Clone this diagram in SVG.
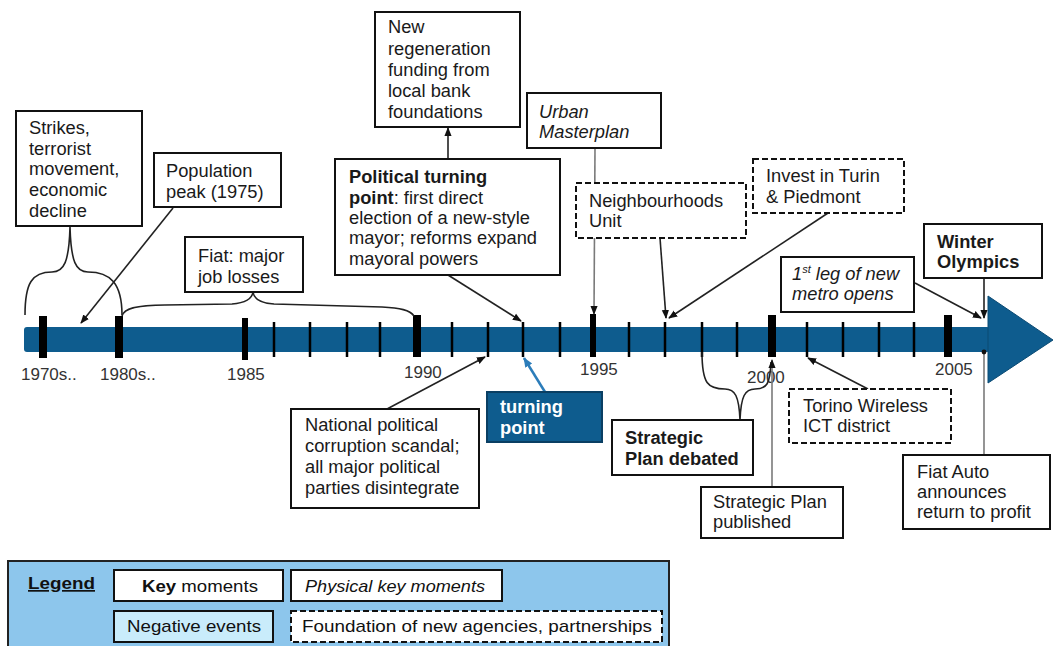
<svg xmlns="http://www.w3.org/2000/svg" width="1053" height="646" viewBox="0 0 1053 646">
<defs>
<style>
.box{fill:#fff;stroke:#111;stroke-width:2}
.dash{fill:#fff;stroke:#111;stroke-width:2;stroke-dasharray:6 3}
.t{font-family:"Liberation Sans",Arial,sans-serif;font-size:18.3px;fill:#1a1a1a}
.b{font-weight:bold}
.i{font-style:italic}
.yr{font-family:"Liberation Sans",Arial,sans-serif;font-size:17px;fill:#333}
.con{stroke:#222;stroke-width:1.6;fill:none}
.gray{stroke:#7a7a7a}
.brace{stroke:#222;stroke-width:1.6;fill:none}
.maj{fill:#000}
.min{stroke:#000;stroke-width:2.5}
.lg{font-family:"Liberation Sans",Arial,sans-serif;font-size:17px;fill:#111}
</style>
<marker id="ah" viewBox="0 0 10 10" refX="9" refY="5" markerWidth="9" markerHeight="9" markerUnits="userSpaceOnUse" orient="auto"><path d="M0,1 L10,5 L0,9 z" fill="#111"/></marker>
<marker id="ahb" viewBox="0 0 10 10" refX="9" refY="5" markerWidth="10" markerHeight="10" markerUnits="userSpaceOnUse" orient="auto"><path d="M0,1 L10,5 L0,9 z" fill="#2C7DBA"/></marker>
<marker id="dot" viewBox="0 0 10 10" refX="5" refY="5" markerWidth="6" markerHeight="6" markerUnits="userSpaceOnUse"><circle cx="5" cy="5" r="4" fill="#111"/></marker>
</defs>
<rect width="1053" height="646" fill="#fff"/>

<g id="timeline">
<rect x="24" y="327" width="966" height="25" rx="3" fill="#0E5C8E"/>
<polygon points="988,296 1053,340 988,383" fill="#0E5C8E" stroke="#0B4A73" stroke-width="1"/>
<rect class="maj" x="39" y="316" width="8" height="42"/>
<rect class="maj" x="115" y="316" width="8" height="42"/>
<rect class="maj" x="242" y="318" width="6" height="42"/>
<rect class="maj" x="413" y="315" width="8" height="42"/>
<rect class="maj" x="590" y="314" width="6" height="43"/>
<rect class="maj" x="768" y="315" width="8" height="42"/>
<rect class="maj" x="944" y="315" width="8" height="42"/>
<g>
<line class="min" x1="274" y1="322" x2="274" y2="357"/>
<line class="min" x1="310" y1="322" x2="310" y2="357"/>
<line class="min" x1="347" y1="322" x2="347" y2="357"/>
<line class="min" x1="380" y1="322" x2="380" y2="357"/>
<line class="min" x1="452" y1="322" x2="452" y2="357"/>
<line class="min" x1="488" y1="322" x2="488" y2="357"/>
<line class="min" x1="523" y1="322" x2="523" y2="357"/>
<line class="min" x1="560" y1="322" x2="560" y2="357"/>
<line class="min" x1="629" y1="322" x2="629" y2="357"/>
<line class="min" x1="665" y1="322" x2="665" y2="357"/>
<line class="min" x1="702" y1="322" x2="702" y2="357"/>
<line class="min" x1="737" y1="322" x2="737" y2="357"/>
<line class="min" x1="807" y1="322" x2="807" y2="357"/>
<line class="min" x1="843" y1="322" x2="843" y2="357"/>
<line class="min" x1="879" y1="322" x2="879" y2="357"/>
<line class="min" x1="914" y1="322" x2="914" y2="357"/>
</g>
<text class="yr" x="21" y="380">1970s..</text>
<text class="yr" x="100" y="380">1980s..</text>
<text class="yr" x="227" y="380">1985</text>
<text class="yr" x="404" y="378">1990</text>
<text class="yr" x="580" y="375">1995</text>
<text class="yr" x="747" y="383">2000</text>
<text class="yr" x="935" y="375">2005</text>
</g>

<g id="connectors">
<path class="brace" d="M25 315 C25 283 32 272 52 272 C64 272 69 262 70 227 C71 262 76 272 88 272 C110 272 122 283 122 315"/>
<path class="brace" d="M122 316 C124 309 135 305 165 305 L232 304 C246 303 252 299 253 292 C254 299 260 303 274 304 L382 307 C400 308 410 310 414 316"/>
<path class="brace" d="M702 352 C702 384 708 389 725 389 C735 389 739 396 740 420 C741 396 745 389 755 389 C767 389 770 384 771 362"/>
<line class="con" x1="173" y1="208" x2="81" y2="323" marker-end="url(#ah)"/>
<line class="con" x1="448" y1="159" x2="448" y2="128" marker-end="url(#ah)"/>
<line class="con" x1="448" y1="275" x2="521" y2="321" marker-end="url(#ah)"/>
<line class="con" x1="387" y1="409" x2="485" y2="357" marker-end="url(#ah)"/>
<line x1="545" y1="392" x2="524" y2="358" stroke="#2C7DBA" stroke-width="2.5" marker-end="url(#ahb)"/>
<line class="con gray" x1="595" y1="148" x2="594" y2="314" marker-end="url(#ah)"/>
<line class="con" x1="660" y1="238" x2="666" y2="318" marker-end="url(#ah)"/>
<line class="con" x1="828" y1="213" x2="669" y2="318" marker-end="url(#ah)"/>
<line class="con" x1="915" y1="283" x2="981" y2="318" marker-end="url(#ah)"/>
<line class="con" x1="984" y1="278" x2="984" y2="318" marker-end="url(#ah)"/>
<line class="con gray" x1="984" y1="455" x2="984" y2="352" marker-end="url(#dot)"/>
<line class="con gray" x1="772" y1="487" x2="772" y2="360" marker-end="url(#ah)"/>
<line class="con" x1="868" y1="389" x2="808" y2="358" marker-end="url(#ah)"/>
</g>

<g id="strikes">
<rect class="box" x="16" y="111" width="126" height="115"/>
<text class="t" x="29" y="134">Strikes,</text>
<text class="t" x="29" y="155">terrorist</text>
<text class="t" x="29" y="175">movement,</text>
<text class="t" x="29" y="196">economic</text>
<text class="t" x="29" y="217">decline</text>
</g>

<g id="population">
<rect class="box" x="154" y="153" width="127" height="54"/>
<text class="t" x="166" y="177">Population</text>
<text class="t" x="166" y="198">peak (1975)</text>
</g>

<g id="fiat-losses">
<rect class="box" x="185" y="237" width="118" height="55"/>
<text class="t" x="198" y="262">Fiat: major</text>
<text class="t" x="198" y="283">job losses</text>
</g>

<g id="regeneration">
<rect class="box" x="375" y="12" width="145" height="115"/>
<text class="t" x="388" y="33">New</text>
<text class="t" x="388" y="55">regeneration</text>
<text class="t" x="388" y="76">funding from</text>
<text class="t" x="388" y="97">local bank</text>
<text class="t" x="388" y="118">foundations</text>
</g>

<g id="political">
<rect class="box" x="335" y="159" width="225" height="116"/>
<text class="t b" x="349" y="183">Political turning</text>
<text class="t" x="349" y="204"><tspan class="b">point</tspan>: first direct</text>
<text class="t" x="349" y="224">election of a new-style</text>
<text class="t" x="349" y="244">mayor; reforms expand</text>
<text class="t" x="349" y="265">mayoral powers</text>
</g>

<g id="masterplan">
<rect class="box" x="527" y="93" width="134" height="55"/>
<text class="t i" x="539" y="118">Urban</text>
<text class="t i" x="539" y="138">Masterplan</text>
</g>

<g id="neighbourhoods">
<rect class="dash" x="576" y="183" width="170" height="55"/>
<text class="t" x="589" y="207">Neighbourhoods</text>
<text class="t" x="589" y="227">Unit</text>
</g>

<g id="invest">
<rect class="dash" x="753" y="159" width="151" height="54"/>
<text class="t" x="766" y="182">Invest in Turin</text>
<text class="t" x="766" y="203">&amp; Piedmont</text>
</g>

<g id="metro">
<rect class="box" x="781" y="257" width="133" height="55"/>
<text class="t i" x="792" y="280">1<tspan font-size="11" dy="-7">st</tspan><tspan dy="7"> leg of new</tspan></text>
<text class="t i" x="792" y="300">metro opens</text>
</g>

<g id="olympics">
<rect class="box" x="924" y="224" width="118" height="54"/>
<text class="t b" x="937" y="248">Winter</text>
<text class="t b" x="937" y="268">Olympics</text>
</g>

<g id="corruption">
<rect class="box" x="291" y="409" width="188" height="99"/>
<text class="t" x="305" y="431">National political</text>
<text class="t" x="305" y="452">corruption scandal;</text>
<text class="t" x="305" y="473">all major political</text>
<text class="t" x="305" y="494">parties disintegrate</text>
</g>

<g id="turning">
<rect x="487" y="392" width="115" height="50" fill="#0E5C8E" stroke="#0A3F63" stroke-width="2"/>
<text class="t b" x="500" y="413" style="fill:#fff">turning</text>
<text class="t b" x="500" y="434" style="fill:#fff">point</text>
</g>

<g id="debated">
<rect class="box" x="612" y="420" width="141" height="55"/>
<text class="t b" x="625" y="444">Strategic</text>
<text class="t b" x="625" y="465">Plan debated</text>
</g>

<g id="published">
<rect class="box" x="701" y="487" width="142" height="51"/>
<text class="t" x="713" y="508">Strategic Plan</text>
<text class="t" x="713" y="528">published</text>
</g>

<g id="wireless">
<rect class="dash" x="789" y="389" width="162" height="54"/>
<text class="t" x="803" y="412">Torino Wireless</text>
<text class="t" x="803" y="432">ICT district</text>
</g>

<g id="fiat-profit">
<rect class="box" x="903" y="455" width="147" height="74"/>
<text class="t" x="917" y="478">Fiat Auto</text>
<text class="t" x="917" y="498">announces</text>
<text class="t" x="917" y="518">return to profit</text>
</g>

<g id="legend">
<rect x="8" y="561" width="661" height="95" fill="#8DC6EC" stroke="#222" stroke-width="2"/>
<text class="lg b" x="28" y="589" text-decoration="underline" textLength="67" lengthAdjust="spacingAndGlyphs">Legend</text>
<rect class="box" x="114" y="570" width="169" height="31"/>
<text class="lg" x="142" y="592" textLength="116" lengthAdjust="spacingAndGlyphs"><tspan class="b">Key</tspan> moments</text>
<rect class="box" x="291" y="570" width="211" height="31"/>
<text class="lg i" x="305" y="592" textLength="180" lengthAdjust="spacingAndGlyphs">Physical key moments</text>
<rect x="114" y="611" width="159" height="31" fill="#C9ECFB" stroke="#111" stroke-width="2"/>
<text class="lg" x="127" y="632" textLength="134" lengthAdjust="spacingAndGlyphs">Negative events</text>
<rect class="dash" x="291" y="611" width="371" height="31"/>
<text class="lg" x="302" y="632" textLength="350" lengthAdjust="spacingAndGlyphs">Foundation of new agencies, partnerships</text>
</g>
</svg>
